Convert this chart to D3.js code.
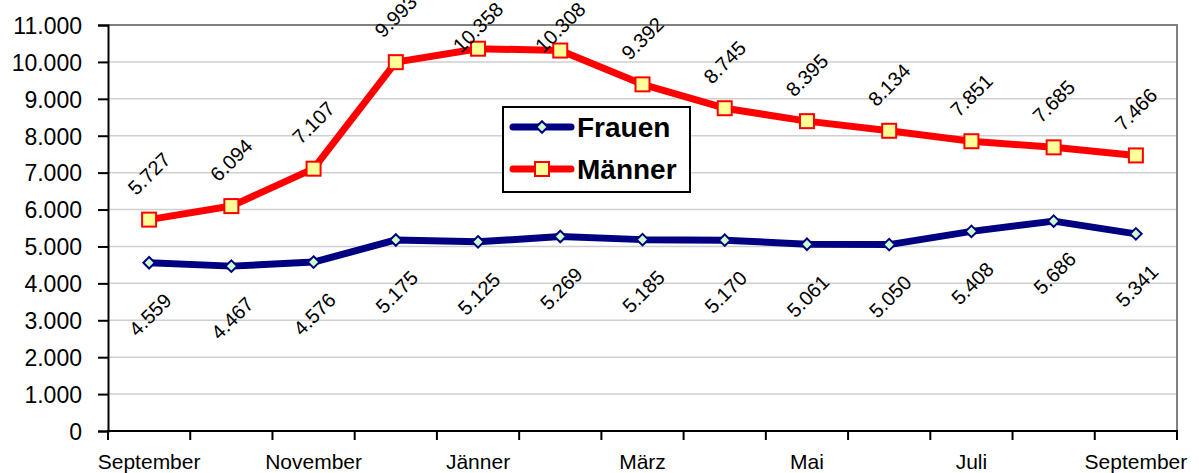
<!DOCTYPE html>
<html>
<head>
<meta charset="utf-8">
<script src="https://cdn.jsdelivr.net/npm/d3@7"></script>
<style>
  body { margin: 0; background: #fff; }
  text { font-family: Arial, "Liberation Sans", sans-serif; }
</style>
</head>
<body>
<div id="chart"></div>
<script>
// data
var months = ["September", "Oktober", "November", "Dezember", "Jänner", "Februar", "März",
    "April", "Mai", "Juni", "Juli", "August", "September"];
var frauen = [4559, 4467, 4576, 5175, 5125, 5269, 5185, 5170, 5061, 5050, 5408, 5686, 5341];
var maenner = [5727, 6094, 7107, 9993, 10358, 10308, 9392, 8745, 8395, 8134, 7851, 7685, 7466];
var yTicks = [0, 1000, 2000, 3000, 4000, 5000, 6000, 7000, 8000, 9000, 10000, 11000];

var W = 1199, H = 473;
var margin = { top: 25, right: 22, bottom: 42, left: 108 },
    w = W - margin.left - margin.right,
    h = H - margin.top - margin.bottom;

var fmt = d3.formatLocale({ decimal: ",", thousands: ".", grouping: [3], currency: ["", "€"] }).format(",d");

var svg = d3.select('#chart')
    .append('svg')
    .attr('width', W)
    .attr('height', H);

var g = svg.append('g')
    .attr("transform", `translate(${margin.left},${margin.top})`);

var idx = d3.range(months.length);

var x = d3.scaleBand()
    .domain(idx)
    .range([0, w]);

var y = d3.scaleLinear()
    .domain([0, 11000])
    .range([h, 0]);

var cx = i => x(i) + x.bandwidth() / 2;

// gridlines
g.append('g').selectAll('line')
    .data(yTicks.slice(1, -1))
    .enter().append('line')
    .attr('x1', 0).attr('x2', w)
    .attr('y1', d => y(d)).attr('y2', d => y(d))
    .attr('stroke', '#cfcfcf')
    .attr('stroke-width', 1.5);

// plot area border (top, right)
g.append('path')
    .attr('d', `M0,${y(11000)}H${w}V${h}`)
    .attr('fill', 'none')
    .attr('stroke', '#808080')
    .attr('stroke-width', 2);

// y axis
var yAxis = d3.axisLeft(y).tickValues(yTicks).tickFormat(fmt).tickSize(10).tickPadding(16);
var ya = g.append('g').call(yAxis);
ya.select('.domain').attr('stroke', '#000').attr('stroke-width', 2);
ya.selectAll('.tick line').attr('stroke', '#000').attr('stroke-width', 2);
ya.selectAll('text').attr('font-size', 23).attr('fill', '#000').attr('dy', '0.36em');

// x axis with ticks at category boundaries
var xa = g.append('g').attr('transform', `translate(0,${h})`);
xa.append('line').attr('x1', -1).attr('x2', w + 1).attr('stroke', '#000').attr('stroke-width', 2);
xa.selectAll('line.tk')
    .data(d3.range(months.length + 1))
    .enter().append('line')
    .attr('class', 'tk')
    .attr('x1', d => d * x.step()).attr('x2', d => d * x.step())
    .attr('y1', 0).attr('y2', 9)
    .attr('stroke', '#000').attr('stroke-width', 2);
xa.selectAll('text')
    .data(idx.filter(i => i % 2 == 0))
    .enter().append('text')
    .attr('x', d => cx(d))
    .attr('y', 38)
    .attr('text-anchor', 'middle')
    .attr('font-size', 21)
    .text(d => months[d]);

var line = d3.line().x((d, i) => cx(i)).y(d => y(d));

// Frauen
g.append('path')
    .datum(frauen)
    .attr('d', line)
    .attr('fill', 'none')
    .attr('stroke', '#000080')
    .attr('stroke-width', 7)
    .attr('stroke-linejoin', 'round');

g.append('g').selectAll('path')
    .data(frauen)
    .enter().append('path')
    .attr('d', d3.symbol(d3.symbolDiamond2, 85))
    .attr('transform', (d, i) => `translate(${cx(i)},${y(d)})`)
    .attr('fill', '#ccffcc')
    .attr('stroke', '#000080')
    .attr('stroke-width', 2);

// Männer
g.append('path')
    .datum(maenner)
    .attr('d', line)
    .attr('fill', 'none')
    .attr('stroke', '#ff0000')
    .attr('stroke-width', 7)
    .attr('stroke-linejoin', 'round');

g.append('g').selectAll('rect')
    .data(maenner)
    .enter().append('rect')
    .attr('x', (d, i) => cx(i) - 7)
    .attr('y', d => y(d) - 7)
    .attr('width', 14)
    .attr('height', 14)
    .attr('fill', '#ffff99')
    .attr('stroke', '#ff0000')
    .attr('stroke-width', 2);

// data labels (rotated); labels that would run far off the top are pushed down
var labelSize = 20;
function halfSpan(d) {
    return (fmt(d).length * 0.5 + 0.716) * labelSize * 0.707 / 2;
}
function topLabelY(d) {
    var cy = y(d) - 46 + margin.top;
    var half = halfSpan(d);
    if (cy - half < -15) cy = half + 1;
    return cy - margin.top;
}

g.append('g').selectAll('text')
    .data(maenner)
    .enter().append('text')
    .attr('transform', (d, i) => `translate(${cx(i)},${topLabelY(d)}) rotate(-45)`)
    .attr('text-anchor', 'middle')
    .attr('dy', '0.35em')
    .attr('font-size', labelSize)
    .text(d => fmt(d));

g.append('g').selectAll('text')
    .data(frauen)
    .enter().append('text')
    .attr('transform', (d, i) => `translate(${cx(i) + 1},${y(d) + 52}) rotate(-45)`)
    .attr('text-anchor', 'middle')
    .attr('dy', '0.35em')
    .attr('font-size', labelSize)
    .text(d => fmt(d));

// legend
var leg = svg.append('g').attr('transform', 'translate(503,107)');
leg.append('rect')
    .attr('width', 187).attr('height', 85)
    .attr('fill', '#fff')
    .attr('stroke', '#000')
    .attr('stroke-width', 2);

var items = [
    { name: "Frauen", color: '#000080', fill: '#ccffcc', shape: 'diamond', yy: 20 },
    { name: "Männer", color: '#ff0000', fill: '#ffff99', shape: 'square', yy: 62 }
];
items.forEach(function (it) {
    leg.append('line')
        .attr('x1', 10).attr('x2', 68)
        .attr('y1', it.yy).attr('y2', it.yy)
        .attr('stroke', it.color).attr('stroke-width', 7)
        .attr('stroke-linecap', 'round');
    if (it.shape == 'diamond') {
        leg.append('path')
            .attr('d', d3.symbol(d3.symbolDiamond2, 85))
            .attr('transform', `translate(39,${it.yy})`)
            .attr('fill', it.fill).attr('stroke', it.color).attr('stroke-width', 2);
    } else {
        leg.append('rect')
            .attr('x', 32).attr('y', it.yy - 7)
            .attr('width', 14).attr('height', 14)
            .attr('fill', it.fill).attr('stroke', it.color).attr('stroke-width', 2);
    }
    leg.append('text')
        .attr('x', 74).attr('y', it.yy)
        .attr('dy', '0.36em')
        .attr('font-size', 28)
        .attr('font-weight', 'bold')
        .text(it.name);
});
</script>
</body>
</html>
